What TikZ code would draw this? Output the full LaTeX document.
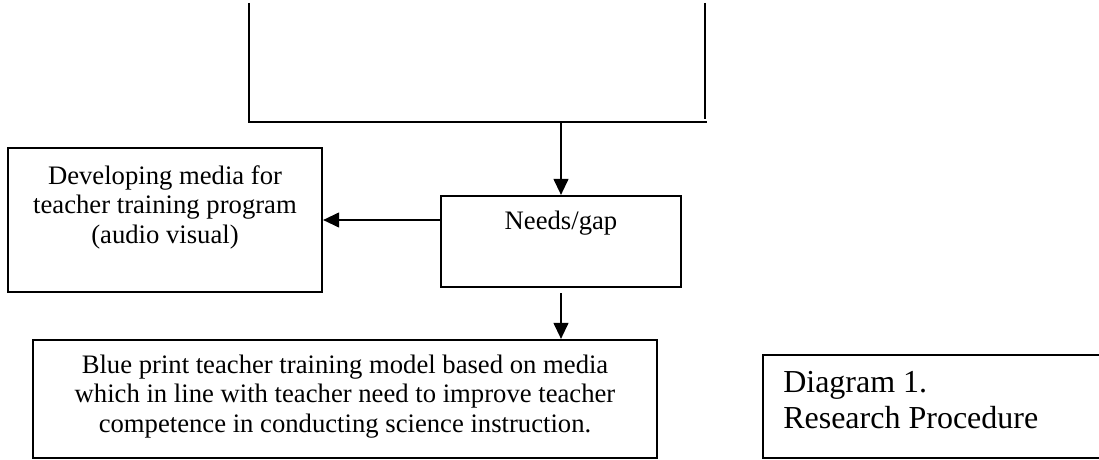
\documentclass[tikz,border=0pt]{standalone}
\usepackage{fontspec}
\setmainfont{Liberation Serif}
\usetikzlibrary{arrows.meta,fit}
\begin{document}
\begin{tikzpicture}[x=0.75pt,y=-0.75pt,
  box/.style={draw=black,line width=1.6pt,inner sep=0pt},
  txt/.style={inner sep=0pt,align=center,font=\fontsize{20}{22.1}\selectfont},
  captxt/.style={inner sep=0pt,align=left,font=\fontsize{24}{27}\selectfont},
  frame/.style={line width=1.6pt},
  arr/.style={line width=1.6pt,-{Triangle[length=12pt,width=11pt]}}]
\clip (0,0) rectangle (1099,460);
% open top frame
\coordinate (tl) at (249,3);
\coordinate (bl) at (249,123);
\coordinate (tr) at (705,3);
\coordinate (br) at (705,119);
\coordinate (barL) at (249,122);
\coordinate (barR) at (707,122);
\coordinate (barM) at (561,122);
\draw[frame] (tl) -- (bl);
\draw[frame] (tr) -- (br);
\draw[frame] (barL) -- (barR);
% boxes
\node[box,fit={(441,196) (681,287)}] (needs) {};
\node[txt] (needst) at (561,223) {Needs/gap};
\node[box,fit={(8,148) (322,292)}] (dev) {};
\node[txt] (devt) at (165,207) {Developing media for\\teacher training program\\(audio visual)};
\node[box,fit={(33,340) (657,458)}] (blue) {};
\node[txt] (bluet) at (345,396.5) {Blue print teacher training model based on media\\which in line with teacher need to improve teacher\\competence in conducting science instruction.};
\node[box,fit={(763,355) (1115,458)}] (cap) {};
\node[captxt,anchor=west] (capt) at (783,400) {Diagram 1.\\Research Procedure};
% connectors
\draw[arr] (barM) -- (needs.north);
\coordinate (la) at (441,220);
\draw[arr] (la) -- (dev.east |- la);
\draw[arr,shorten <=3.75pt] (needs.south) -- (blue.north -| needs.south);
\end{tikzpicture}
\end{document}
